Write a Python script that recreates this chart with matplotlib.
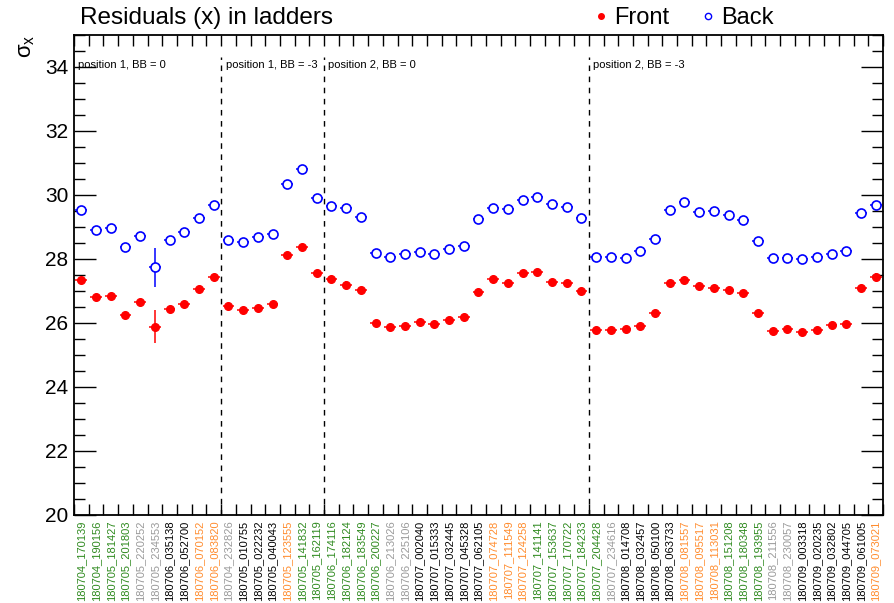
import matplotlib
matplotlib.use("Agg")
import matplotlib.pyplot as plt
from matplotlib.lines import Line2D
from matplotlib.ticker import MultipleLocator, FixedLocator
import numpy as np

plt.rcParams['font.family'] = ['Liberation Sans', 'DejaVu Sans']
plt.rcParams['mathtext.fontset'] = 'custom'
plt.rcParams['mathtext.rm'] = 'Liberation Sans'
plt.rcParams['mathtext.it'] = 'Liberation Sans'

# Run labels (ladder runs) and their group colour codes
runs = [
    "180704_170139", "180704_190156", "180705_181427", "180705_201803", "180705_220252",
    "180705_234553", "180706_035138", "180706_052700", "180706_070152", "180706_083820",
    "180704_232826", "180705_010755", "180705_022232", "180705_040043", "180705_123555",
    "180705_141832", "180705_162119",
    "180706_174116", "180706_182124", "180706_183549", "180706_200227", "180706_213026",
    "180706_225106", "180707_002040", "180707_015333", "180707_032445", "180707_045328",
    "180707_062105", "180707_074728", "180707_111549", "180707_124258", "180707_141141",
    "180707_153637", "180707_170722", "180707_184233",
    "180707_204428", "180707_234616", "180708_014708", "180708_032457", "180708_050100",
    "180708_063733", "180708_081557", "180708_095517", "180708_113031", "180708_151208",
    "180708_180348", "180708_193955", "180708_211556", "180708_230057", "180709_003318",
    "180709_020235", "180709_032802", "180709_044705", "180709_061005", "180709_073021",
]
run_group = [
    "g", "g", "g", "g", "s", "s", "k", "k", "o", "o",
    "s", "k", "k", "k", "o", "g", "g",
    "g", "g", "g", "g", "s", "s", "k", "k", "k", "k", "k", "o", "o", "o", "g", "g", "g", "g",
    "g", "s", "k", "k", "k", "k", "o", "o", "o", "g", "g", "g", "s", "s", "k", "k", "k", "k", "k", "o",
]
group_colors = {"g": "#2f8a1f", "s": "#9a9a9a", "k": "#000000", "o": "#ff8c2e"}

front = [27.34, 26.80, 26.83, 26.25, 26.65, 25.88, 26.44, 26.58, 27.06, 27.45,
         26.52, 26.40, 26.48, 26.58, 28.13, 28.37, 27.56,
         27.39, 27.19, 27.03, 25.99, 25.87, 25.92, 26.02, 25.97, 26.10, 26.20, 26.98,
         27.39, 27.26, 27.56, 27.58, 27.29, 27.26, 27.00,
         25.78, 25.78, 25.80, 25.92, 26.30, 27.24, 27.33, 27.15, 27.10, 27.03, 26.93,
         26.32, 25.74, 25.80, 25.73, 25.77, 25.94, 25.97, 27.08, 27.45]
front_err = [0.06, 0.05, 0.05, 0.05, 0.05, 0.52, 0.05, 0.05, 0.05, 0.05,
             0.05, 0.05, 0.05, 0.05, 0.05, 0.06, 0.05,
             0.06, 0.13, 0.05, 0.05, 0.05, 0.05, 0.05, 0.05, 0.05, 0.05, 0.05,
             0.05, 0.05, 0.05, 0.05, 0.05, 0.05, 0.05,
             0.05, 0.05, 0.05, 0.05, 0.05, 0.05, 0.05, 0.05, 0.05, 0.05, 0.05,
             0.05, 0.05, 0.05, 0.05, 0.05, 0.05, 0.05, 0.05, 0.10]
back = [29.53, 28.91, 28.96, 28.39, 28.72, 27.74, 28.60, 28.84, 29.27, 29.70,
        28.58, 28.53, 28.68, 28.79, 30.34, 30.82, 29.90,
        29.67, 29.58, 29.30, 28.20, 28.05, 28.15, 28.23, 28.17, 28.30, 28.41, 29.25,
        29.60, 29.55, 29.84, 29.93, 29.71, 29.62, 29.28,
        28.07, 28.07, 28.04, 28.25, 28.61, 29.53, 29.79, 29.47, 29.50, 29.38, 29.22,
        28.57, 28.04, 28.04, 28.00, 28.05, 28.16, 28.24, 29.45, 29.69]
back_err = [0.05, 0.05, 0.05, 0.05, 0.05, 0.60, 0.05, 0.05, 0.05, 0.05,
            0.05, 0.05, 0.05, 0.05, 0.05, 0.06, 0.05,
            0.05, 0.12, 0.05, 0.05, 0.05, 0.05, 0.05, 0.05, 0.05, 0.05, 0.05,
            0.05, 0.05, 0.05, 0.05, 0.05, 0.05, 0.05,
            0.05, 0.05, 0.05, 0.05, 0.05, 0.05, 0.05, 0.05, 0.05, 0.05, 0.05,
            0.05, 0.05, 0.05, 0.05, 0.05, 0.05, 0.05, 0.05, 0.08]

# Configuration blocks: (first bin, caption)
sections = [(0, "position 1, BB = 0"), (10, "position 1, BB = -3"),
            (17, "position 2, BB = 0"), (35, "position 2, BB = -3")]

n = len(runs)
x = np.arange(n) + 0.5

fig = plt.figure(figsize=(8.95, 6.03), dpi=100)
ax = fig.add_axes([74 / 895, 1 - 515 / 603, 809 / 895, 480 / 603])

ax.errorbar(x, front, xerr=0.4, yerr=front_err, fmt='o', color='#ff0000',
            ms=5.5, mec='#ff0000', mfc='#ff0000', elinewidth=1.1, capsize=0, zorder=3)
ax.errorbar(x, back, xerr=0.4, yerr=back_err, fmt='o', color='#0000ff',
            ms=6.5, mec='#0000ff', mfc='white', mew=1.2, elinewidth=1.1, capsize=0, zorder=3)

ax.set_xlim(0, n)
ax.set_ylim(20, 35)

# section separators and captions
for start, caption in sections:
    if start > 0:
        ax.plot([start, start], [20, 34.3], color='black', lw=1.0, ls=(0, (4, 4)), zorder=2)
    ax.text(start + 0.3, 34.05, caption, fontsize=8, va='center', ha='left')

# y axis ticks
ax.yaxis.set_major_locator(MultipleLocator(2))
ax.yaxis.set_minor_locator(MultipleLocator(0.5))
ax.set_yticks([20, 22, 24, 26, 28, 30, 32, 34])
ax.tick_params(axis='y', which='major', direction='in', length=16, width=1.0,
               labelsize=15, left=True, right=True, pad=4)
ax.tick_params(axis='y', which='minor', direction='in', length=8, width=1.0,
               left=True, right=True)

# x axis: labels at bin centres, ticks at bin edges
ax.xaxis.set_major_locator(FixedLocator(x))
ax.set_xticklabels(runs, rotation=90, fontsize=8)
for lbl, grp in zip(ax.get_xticklabels(), run_group):
    lbl.set_color(group_colors[grp])
ax.xaxis.set_minor_locator(FixedLocator(np.arange(n + 1)))
ax.tick_params(axis='x', which='major', length=0, pad=4)
ax.tick_params(axis='x', which='minor', direction='in', length=8, width=1.0,
               top=True, bottom=True)

for sp in ax.spines.values():
    sp.set_linewidth(1.3)

ax.text(-0.046, 1.0, r'$\sigma_{x}$', rotation=90, transform=ax.transAxes,
        ha='right', va='top', fontsize=16)

fig.text(80 / 895, 1 - 18 / 603, "Residuals (x) in ladders", fontsize=17.5,
         ha='left', va='center')

handles = [Line2D([], [], ls='none', marker='o', ms=4, color='#ff0000'),
           Line2D([], [], ls='none', marker='o', ms=4.5, mfc='white', mec='#0000ff', mew=1.0)]
fig.legend(handles, ["Front", "Back"], loc='center', ncol=2, frameon=False,
           bbox_to_anchor=(684 / 895, 1 - 18 / 603), fontsize=17,
           handlelength=0.5, handletextpad=0.3, columnspacing=1.4, borderpad=0)

fig.savefig("out.png", dpi=100)
